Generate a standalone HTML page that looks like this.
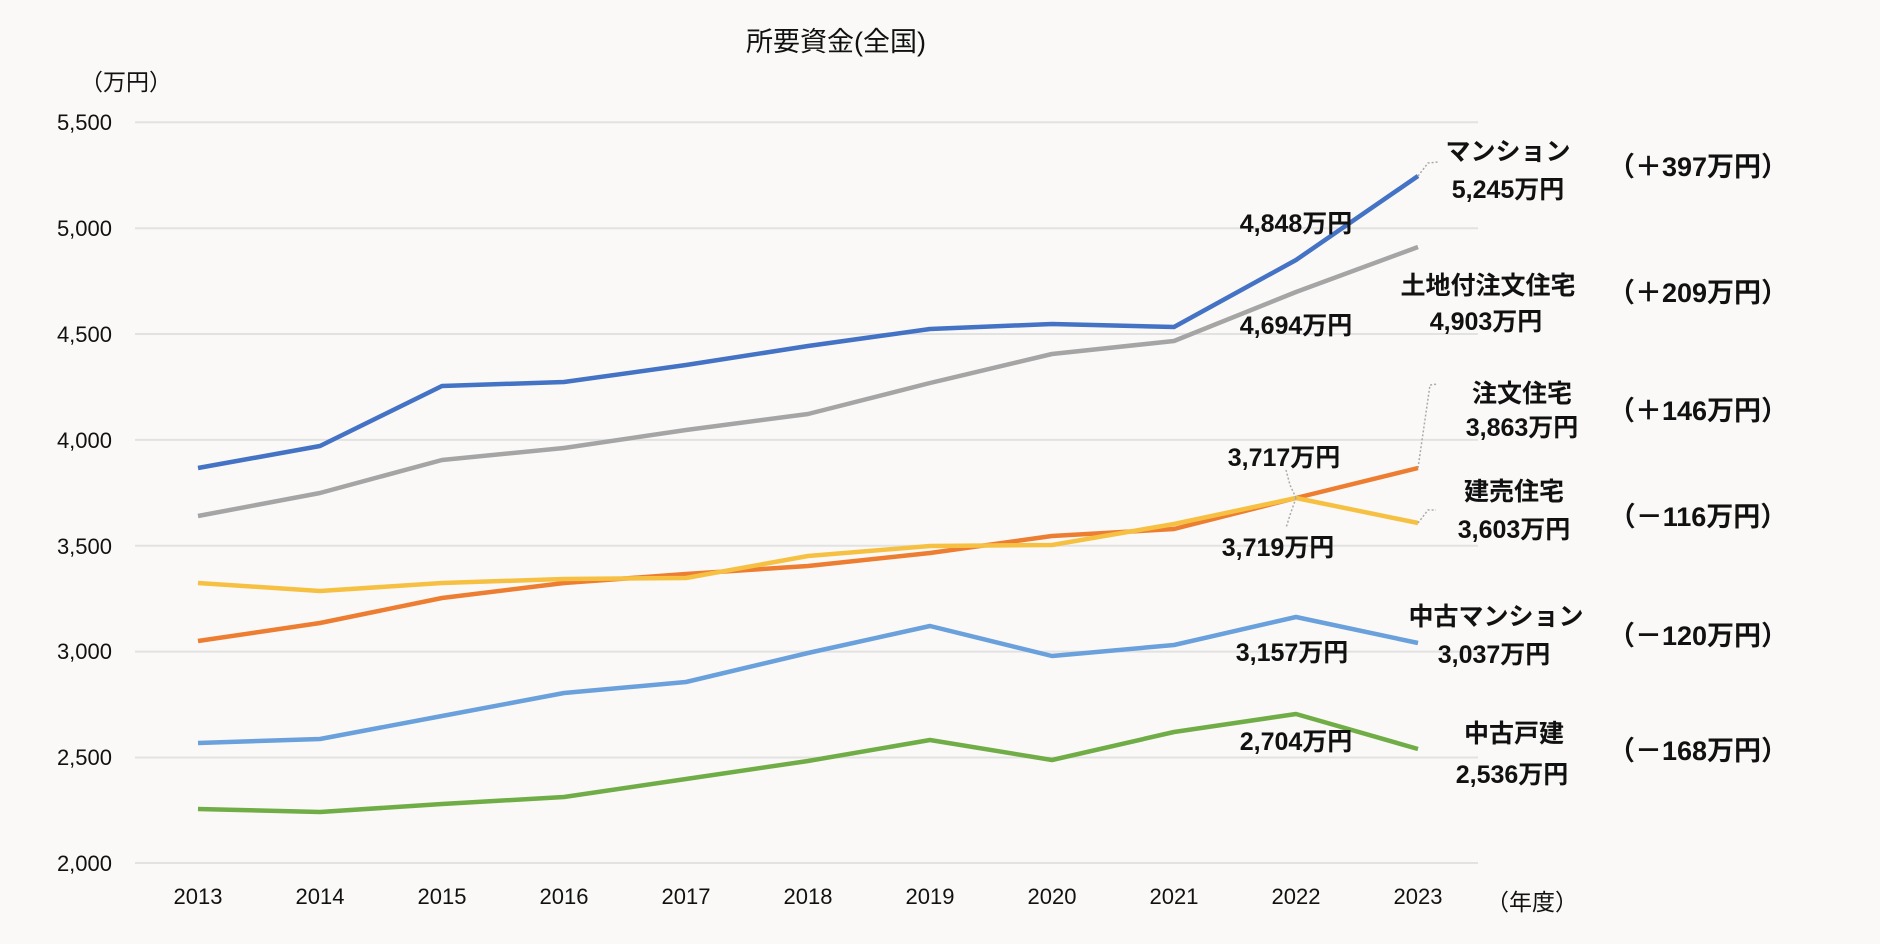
<!DOCTYPE html>
<html><head><meta charset="utf-8"><style>
html,body{margin:0;padding:0;background:#faf9f7;}
svg{display:block;}
text{font-family:"Liberation Sans","Noto Sans CJK JP",sans-serif;fill:#111;}
.t{font-size:22px;text-anchor:end;}
.x{font-size:22px;text-anchor:middle;}
.l{font-size:25px;font-weight:bold;text-anchor:middle;}
.p{font-size:27px;font-weight:bold;text-anchor:middle;}
</style></head><body>
<svg width="1880" height="944" viewBox="0 0 1880 944">
<rect width="1880" height="944" fill="#faf9f7"/>
<g stroke="#e2e2e2" stroke-width="2">
<line x1="135" x2="1478" y1="122.3" y2="122.3"/>
<line x1="135" x2="1478" y1="228.2" y2="228.2"/>
<line x1="135" x2="1478" y1="334" y2="334"/>
<line x1="135" x2="1478" y1="439.9" y2="439.9"/>
<line x1="135" x2="1478" y1="545.8" y2="545.8"/>
<line x1="135" x2="1478" y1="651.6" y2="651.6"/>
<line x1="135" x2="1478" y1="757.5" y2="757.5"/>
<line x1="135" x2="1478" y1="863" y2="863"/>
</g>
<g>
<text class="t" x="112" y="130">5,500</text>
<text class="t" x="112" y="236">5,000</text>
<text class="t" x="112" y="342">4,500</text>
<text class="t" x="112" y="448">4,000</text>
<text class="t" x="112" y="554">3,500</text>
<text class="t" x="112" y="659">3,000</text>
<text class="t" x="112" y="765">2,500</text>
<text class="t" x="112" y="871">2,000</text>
</g>
<g>
<text class="x" x="198" y="904">2013</text><text class="x" x="320" y="904">2014</text><text class="x" x="442" y="904">2015</text><text class="x" x="564" y="904">2016</text><text class="x" x="686" y="904">2017</text><text class="x" x="808" y="904">2018</text><text class="x" x="930" y="904">2019</text><text class="x" x="1052" y="904">2020</text><text class="x" x="1174" y="904">2021</text><text class="x" x="1296" y="904">2022</text><text class="x" x="1418" y="904">2023</text>
</g>
<text x="836" y="51" style="font-size:27px;text-anchor:middle">所要資金(全国)</text>
<text x="126" y="90" style="font-size:23px;text-anchor:middle">（万円）</text>
<text x="1532" y="910" style="font-size:23px;text-anchor:middle">（年度）</text>
<g fill="none" stroke-width="4.5" stroke-linejoin="round">
<polyline stroke="#4472c4" points="198,468 320,446 442,386 564,382 686,365 808,346 930,329 1052,324 1174,327 1296,260 1418,176"/>
<polyline stroke="#a5a5a5" points="198,516 320,493 442,460 564,448 686,430 808,414 930,383 1052,354 1174,341 1296,292 1418,247"/>
<polyline stroke="#ed7d31" points="198,641 320,623 442,598 564,583 686,574 808,566 930,553 1052,536 1174,529 1296,498 1418,468"/>
<polyline stroke="#f6c143" points="198,583 320,591 442,583 564,579 686,578 808,556 930,546 1052,545 1174,524 1296,498 1418,523"/>
<polyline stroke="#6aa0db" points="198,743 320,739 442,716 564,693 686,682 808,653 930,626 1052,656 1174,645 1296,617 1418,643"/>
<polyline stroke="#70ad47" points="198,809 320,812 442,804 564,797 686,779 808,761 930,740 1052,760 1174,732 1296,714 1418,749"/>
</g>
<g stroke="#aaa" stroke-width="1.5" stroke-dasharray="2,2" fill="none">
<polyline points="1418,176 1428,163 1438,162"/>
<polyline points="1418,468 1430,385 1438,384"/>
<polyline points="1418,523 1428,510 1436,510"/>
<polyline points="1296,498 1290,485 1286,470"/>
<polyline points="1296,498 1290,515 1286,528"/>
</g>
<g>
<text class="l" x="1508" y="160">マンション</text><text class="l" x="1508" y="198">5,245万円</text>
<text class="l" x="1296" y="232">4,848万円</text>
<text class="l" x="1488" y="294">土地付注文住宅</text><text class="l" x="1486" y="330">4,903万円</text>
<text class="l" x="1296" y="334">4,694万円</text>
<text class="l" x="1522" y="402">注文住宅</text><text class="l" x="1522" y="436">3,863万円</text>
<text class="l" x="1284" y="466">3,717万円</text>
<text class="l" x="1514" y="500">建売住宅</text><text class="l" x="1514" y="538">3,603万円</text>
<text class="l" x="1278" y="556">3,719万円</text>
<text class="l" x="1496" y="625">中古マンション</text><text class="l" x="1494" y="663">3,037万円</text>
<text class="l" x="1292" y="661">3,157万円</text>
<text class="l" x="1514" y="742">中古戸建</text><text class="l" x="1512" y="783">2,536万円</text>
<text class="l" x="1296" y="750">2,704万円</text>
</g>
<g>
<text class="p" x="1698" y="176">（＋397万円）</text>
<text class="p" x="1698" y="302">（＋209万円）</text>
<text class="p" x="1698" y="420">（＋146万円）</text>
<text class="p" x="1698" y="526">（－116万円）</text>
<text class="p" x="1698" y="645">（－120万円）</text>
<text class="p" x="1698" y="760">（－168万円）</text>
</g>
</svg>
</body></html>
